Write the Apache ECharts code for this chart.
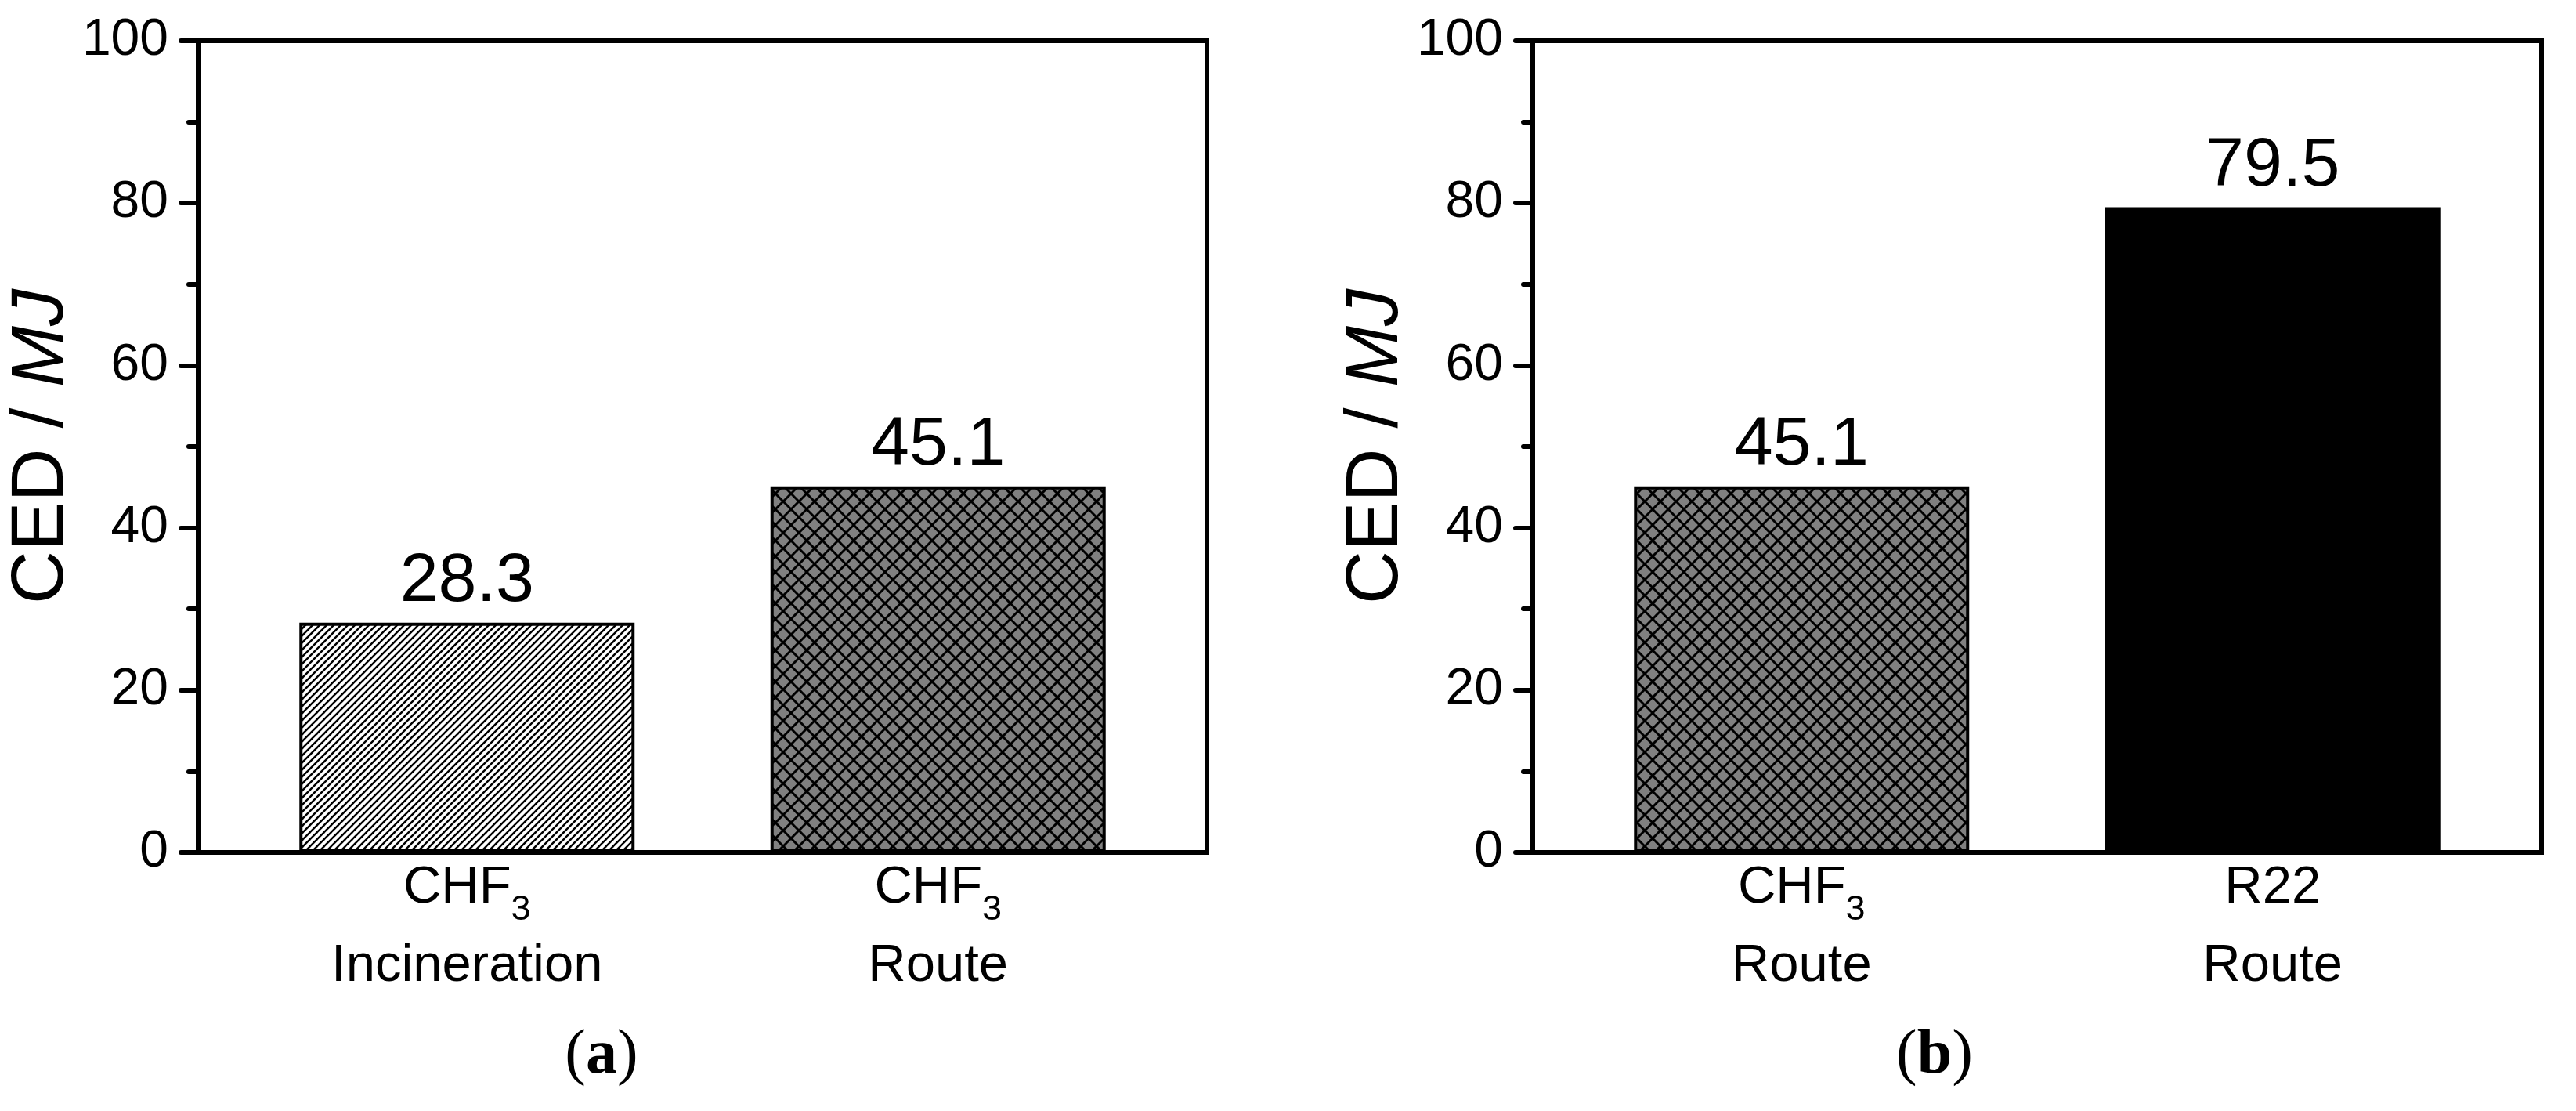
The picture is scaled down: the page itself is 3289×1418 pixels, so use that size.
<!DOCTYPE html>
<html><head><meta charset="utf-8">
<script src="https://cdn.jsdelivr.net/npm/echarts@6/dist/echarts.min.js"></script>
<style>html,body{margin:0;padding:0;background:#fff}#c{width:3289px;height:1418px}</style>
</head><body><div id="c"></div>
<script>
// ---- data ----
const categoriesA = ['CHF3 Incineration', 'CHF3 Route'];
const valuesA = [28.3, 45.1];
const categoriesB = ['CHF3 Route', 'R22 Route'];
const valuesB = [45.1, 79.5];
const positions = [1, 2];
const yMin = 0, yMax = 100, yStep = 20;
const yTitle = ['CED / ', 'MJ'];
const panelLabels = ['a', 'b'];
const fillsA = ['hatch', 'cross'];
const fillsB = ['cross', 'solid'];

// ---- styles ----
const FONT = "'Liberation Sans', Arial, sans-serif";
const SERIF = "'Liberation Serif', 'Times New Roman', serif";

function makeHatch() {
  const s = 9, c = document.createElement('canvas');
  c.width = s; c.height = s;
  const g = c.getContext('2d');
  g.fillStyle = '#fff'; g.fillRect(0, 0, s, s);
  g.strokeStyle = '#000'; g.lineWidth = 2.4;
  for (const o of [-s, 0, s]) {
    g.beginPath(); g.moveTo(o - 2, s + 2); g.lineTo(o + s + 2, -2); g.stroke();
  }
  return c;
}
function makeCross() {
  const s = 20, c = document.createElement('canvas');
  c.width = s; c.height = s;
  const g = c.getContext('2d');
  g.fillStyle = '#808080'; g.fillRect(0, 0, s, s);
  g.strokeStyle = '#000'; g.lineWidth = 3;
  for (const o of [-s, 0, s]) {
    g.beginPath(); g.moveTo(o - 3, -3); g.lineTo(o + s + 3, s + 3); g.stroke();
    g.beginPath(); g.moveTo(o - 3, s + 3); g.lineTo(o + s + 3, -3); g.stroke();
  }
  return c;
}
const fills = {
  hatch: { image: makeHatch(), repeat: 'repeat' },
  cross: { image: makeCross(), repeat: 'repeat' },
  solid: '#000'
};

function catLabel(name) {
  const parts = name.split(' ');
  const first = parts[0].replace(/^CHF(\d)$/, '{n|CHF}{s|$1}');
  const f1 = first.indexOf('{') === 0 ? first : '{n|' + first + '}';
  return f1 + '\n{n|' + parts.slice(1).join(' ') + '}';
}

const gridLefts = [253, 1957];
const plotW = 1288, plotTop = 52, plotH = 1036;
const xPad = 0.5707;

function build(i, cats, vals, fillKeys) {
  const grid = { left: gridLefts[i], top: plotTop, width: plotW, height: plotH,
    show: true, borderColor: '#000', borderWidth: 6, backgroundColor: 'transparent' };
  const xAxis = {
    gridIndex: i, type: 'value', min: positions[0] - xPad, max: positions[positions.length - 1] + xPad,
    axisLine: { show: true, onZero: false, lineStyle: { color: '#000', width: 6 } },
    axisTick: { show: false }, splitLine: { show: false },
    axisLabel: {
      customValues: positions,
      formatter: v => catLabel(cats[positions.indexOf(v)]),
      margin: -4,
      color: '#000',
      rich: {
        n: { fontSize: 67, lineHeight: 100, fontFamily: FONT, color: '#000' },
        s: { fontSize: 45, lineHeight: 45, verticalAlign: 'bottom', fontFamily: FONT, color: '#000' }
      }
    }
  };
  const yAxis = {
    gridIndex: i, type: 'value', min: yMin, max: yMax, interval: yStep,
    axisLine: { show: true, lineStyle: { color: '#000', width: 6 } },
    axisTick: { show: true, length: 22, lineStyle: { color: '#000', width: 6, cap: 'round' } },
    minorTick: { show: true, splitNumber: 2, length: 12, lineStyle: { color: '#000', width: 6, cap: 'round' } },
    splitLine: { show: false }, minorSplitLine: { show: false },
    axisLabel: { margin: 38, fontSize: 66, color: '#000', fontFamily: FONT },
    name: '{n|' + yTitle[0] + '}{i|' + yTitle[1] + '}',
    nameLocation: 'middle', nameGap: 138,
    nameTextStyle: {
      rich: {
        n: { fontSize: 94, lineHeight: 94, fontFamily: FONT, color: '#000' },
        i: { fontSize: 94, lineHeight: 94, fontFamily: FONT, fontStyle: 'italic', color: '#000' }
      }
    }
  };
  const series = {
    type: 'bar', xAxisIndex: i, yAxisIndex: i, barWidth: 428,
    data: vals.map((v, k) => ({ value: [positions[k], v], itemStyle: { color: fills[fillKeys[k]] } })),
    itemStyle: { borderColor: '#000', borderWidth: 4 },
    label: { show: true, position: 'top', distance: 8, fontSize: 88, lineHeight: 88,
      color: '#000', fontFamily: FONT, formatter: p => p.value[1].toFixed(1) },
    silent: true, animation: false
  };
  return { grid, xAxis, yAxis, series };
}

const A = build(0, categoriesA, valuesA, fillsA);
const B = build(1, categoriesB, valuesB, fillsB);

const panelX = [768, 2470];
const chart = echarts.init(document.getElementById('c'), null, { renderer: 'canvas' });
chart.setOption({
  backgroundColor: '#fff',
  animation: false,
  grid: [A.grid, B.grid],
  xAxis: [A.xAxis, B.xAxis],
  yAxis: [A.yAxis, B.yAxis],
  series: [A.series, B.series],
  graphic: panelLabels.map((t, k) => ({
    type: 'text', x: panelX[k], y: 1348,
    style: {
      text: '{p|(}{b|' + t + '}{p|)}',
      align: 'center', verticalAlign: 'middle',
      rich: {
        p: { fontSize: 80, fontFamily: SERIF, fill: '#000', color: '#000' },
        b: { fontSize: 80, fontFamily: SERIF, fontWeight: 'bold', fill: '#000', color: '#000' }
      }
    }
  }))
});
</script></body></html>
